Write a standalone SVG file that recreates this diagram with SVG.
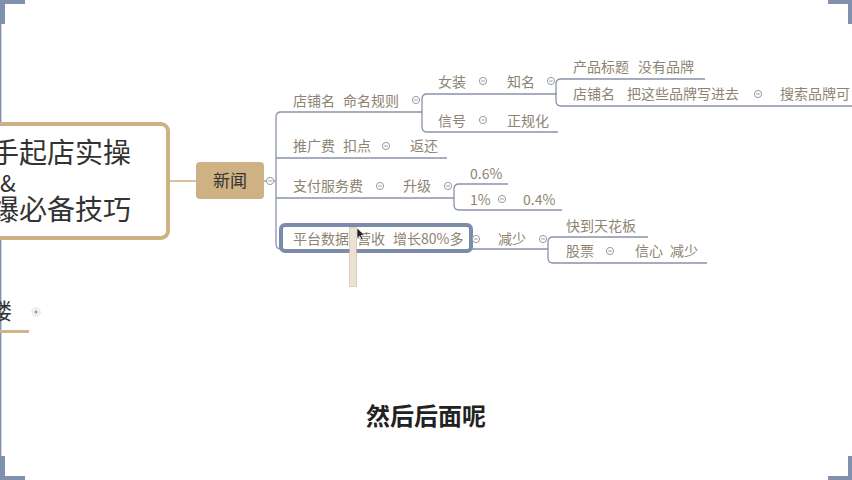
<svg xmlns="http://www.w3.org/2000/svg" xmlns:xlink="http://www.w3.org/1999/xlink" width="852" height="480" viewBox="0 0 852 480">
<style>
.lbl{font-family:"Noto Sans CJK SC","Liberation Sans",sans-serif;font-size:14px;fill:#8e8372}
.root{font-family:"Noto Sans CJK SC","Liberation Sans",sans-serif;fill:#333}
.conn{fill:none;stroke:#8a93ab;stroke-width:1.3}
.tanline{fill:none;stroke:#cfb283;stroke-width:1.6}
.frame{fill:#8090ad}
</style>
<defs>
<g id="minus">
<circle cx="0" cy="0" r="3.6" fill="#fff" stroke="#9a9aa4" stroke-width="1"/>
<line x1="-1.8" y1="0" x2="1.8" y2="0" stroke="#9a9aa4" stroke-width="1"/>
</g>
</defs>
<rect width="852" height="480" fill="#fff"/>

<g id="frame">
<line x1="0.7" y1="0" x2="0.7" y2="480" stroke="#8090ad" stroke-width="1.4"/>
<rect class="frame" x="0" y="0" width="5" height="24"/>
<rect class="frame" x="0" y="0" width="25" height="4"/>
<rect class="frame" x="828" y="0" width="24" height="4"/>
<rect class="frame" x="848" y="0" width="4" height="24"/>
<rect class="frame" x="0" y="456" width="5" height="24"/>
<rect class="frame" x="0" y="476" width="25" height="4"/>
<rect class="frame" x="848" y="456" width="4" height="24"/>
<rect class="frame" x="828" y="476" width="24" height="4"/>
</g>

<g id="connectors">
<path class="tanline" d="M168,181 H196"/>
<path class="conn" d="M264,181 H276"/>
<path class="conn" d="M422,112 H281 Q276,112 276,117 V244 Q276,249 281,249 H548"/>
<path class="conn" d="M276,158 H447"/>
<path class="conn" d="M276,198 H454"/>
<path class="conn" d="M557,94 H427 Q422,94 422,99 V127 Q422,132 427,132 H558"/>
<path class="conn" d="M705,79 H561 Q556,79 556,84 V101 Q556,106 561,106 H852"/>
<path class="conn" d="M508,184 H459 Q454,184 454,189 V205 Q454,210 459,210 H562"/>
<path class="conn" d="M648,237 H553 Q548,237 548,242 V258 Q548,263 553,263 H707"/>
</g>

<g id="root">
<rect x="-20" y="124" width="188" height="114" rx="7" fill="#fff" stroke="#cfb283" stroke-width="4"/>
<text class="root" x="-9" y="163" font-size="28">手起店实操</text>
<text class="root" x="0" y="192" font-size="23">&amp;</text>
<text class="root" x="-9" y="220" font-size="28">爆必备技巧</text>
</g>

<g id="news">
<rect x="196" y="162" width="68" height="37" rx="4" fill="#cfb283"/>
<text class="root" x="230" y="187" font-size="17" text-anchor="middle">新闻</text>
<use xlink:href="#minus" x="270" y="181"/>
</g>

<g id="shop">
<text class="lbl" y="105.5"><tspan x="293">店铺名</tspan><tspan x="343">命名规则</tspan></text>
<use xlink:href="#minus" x="416" y="100"/>
</g>
<g id="women">
<text class="lbl" x="438" y="86.5">女装</text>
<use xlink:href="#minus" x="483" y="81"/>
<text class="lbl" x="507" y="86.5">知名</text>
<use xlink:href="#minus" x="551" y="81"/>
</g>
<g id="title">
<text class="lbl" y="72"><tspan x="573">产品标题</tspan><tspan x="638">没有品牌</tspan></text>
</g>
<g id="shopname">
<text class="lbl" y="98.5"><tspan x="573">店铺名</tspan><tspan x="627">把这些品牌写进去</tspan></text>
<use xlink:href="#minus" x="758" y="94"/>
<text class="lbl" x="780" y="98.5">搜索品牌可</text>
</g>
<g id="xinhao">
<text class="lbl" x="438" y="125.5">信号</text>
<use xlink:href="#minus" x="483" y="120"/>
<text class="lbl" x="507" y="125.5">正规化</text>
</g>
<g id="promo">
<text class="lbl" y="150.5"><tspan x="293">推广费</tspan><tspan x="343">扣点</tspan></text>
<use xlink:href="#minus" x="386" y="146"/>
<text class="lbl" x="410" y="150.5">返还</text>
</g>
<g id="payfee">
<text class="lbl" x="293" y="190.5">支付服务费</text>
<use xlink:href="#minus" x="380" y="186"/>
<text class="lbl" x="403" y="190.5">升级</text>
<use xlink:href="#minus" x="448" y="186"/>
</g>
<g id="p06">
<text class="lbl" x="470" y="178.5">0.6%</text>
</g>
<g id="p1">
<text class="lbl" x="470" y="205">1%</text>
<use xlink:href="#minus" x="502" y="199"/>
<text class="lbl" x="523" y="205">0.4%</text>
</g>
<g id="platform">
<rect x="281" y="225" width="190" height="26" rx="4" fill="#fff" stroke="#7d8bab" stroke-width="4"/>
<text class="lbl" y="243.5"><tspan x="293">平台数据</tspan><tspan x="357">营收</tspan><tspan x="393">增长80%多</tspan></text>
<use xlink:href="#minus" x="476" y="239"/>
<text class="lbl" x="498" y="243.5">减少</text>
<use xlink:href="#minus" x="543" y="239"/>
</g>
<g id="ceiling">
<text class="lbl" x="566" y="230.5">快到天花板</text>
</g>
<g id="stock">
<text class="lbl" x="566" y="255.5">股票</text>
<use xlink:href="#minus" x="610" y="251"/>
<text class="lbl" y="255.5"><tspan x="635">信心</tspan><tspan x="670">减少</tspan></text>
</g>

<g id="overlay">
<rect x="349.5" y="227.5" width="7" height="59" fill="#ebe2d5" stroke="#c7ad84" stroke-width="1" stroke-dasharray="1 1"/>
<polygon points="357,228 357,238.5 359.6,236 361.6,240 363.2,239.2 361.2,235.3 364.5,235" fill="#222" stroke="#fff" stroke-width="0.6"/>
</g>

<g id="lou">
<text class="root" x="-10" y="319" font-size="22">楼</text>
<rect x="0" y="330" width="29" height="3" fill="#d2b48c"/>
<circle cx="36" cy="312" r="4" fill="#fff" stroke="#cfb283" stroke-width="1" stroke-dasharray="1 1"/>
<line x1="33.8" y1="312" x2="38.2" y2="312" stroke="#6f86b0" stroke-width="1"/>
<line x1="36" y1="309.8" x2="36" y2="314.2" stroke="#6f86b0" stroke-width="1"/>
</g>

<g id="caption">
<text x="366" y="425" font-family="Noto Sans CJK SC, Liberation Sans, sans-serif" font-size="24" font-weight="bold" fill="#222">然后后面呢</text>
</g>
</svg>
